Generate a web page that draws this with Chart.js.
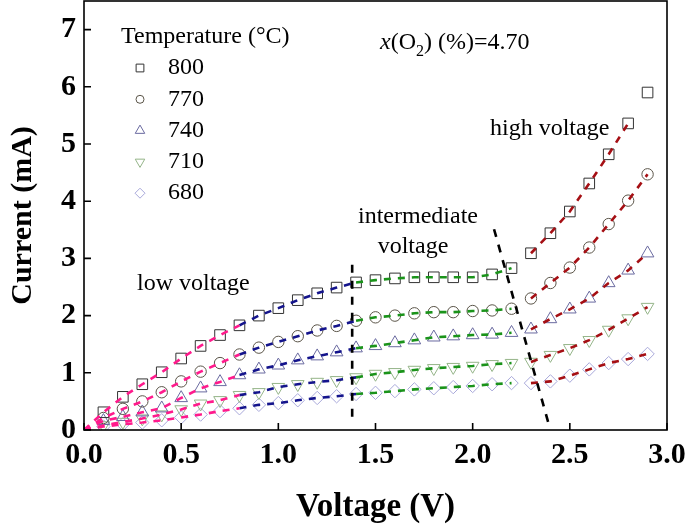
<!DOCTYPE html>
<html>
<head>
<meta charset="utf-8">
<script src="https://cdn.jsdelivr.net/npm/chart.js@4.4.0/dist/chart.umd.min.js"></script>
<style>
  html, body { margin: 0; padding: 0; background: #fff; }
  #wrap { width: 685px; height: 527px; }
</style>
</head>
<body>
<div id="wrap"><canvas id="myChart"></canvas></div>
<script>
// data
const voltage = [0.0, 0.1, 0.2, 0.3, 0.4, 0.5, 0.6, 0.7, 0.8, 0.9,
                 1.0, 1.1, 1.2, 1.3, 1.4, 1.5, 1.6, 1.7, 1.8, 1.9,
                 2.0, 2.1, 2.2, 2.3, 2.4, 2.5, 2.6, 2.7, 2.8, 2.9];
const temps = ['800', '770', '740', '710', '680'];
const cur800 = [0, 0.31, 0.58, 0.80, 1.01, 1.25, 1.47, 1.66, 1.83, 2.00,
                2.13, 2.27, 2.39, 2.49, 2.58, 2.62, 2.65, 2.67, 2.67, 2.67,
                2.67, 2.72, 2.83, 3.09, 3.44, 3.82, 4.31, 4.82, 5.36, 5.90];
const cur770 = [0, 0.21, 0.37, 0.50, 0.66, 0.85, 1.02, 1.17, 1.32, 1.44,
                1.54, 1.64, 1.74, 1.82, 1.91, 1.97, 2.00, 2.04, 2.06, 2.06,
                2.08, 2.09, 2.12, 2.30, 2.57, 2.84, 3.19, 3.60, 4.01, 4.47];
const cur740 = [0, 0.16, 0.23, 0.31, 0.38, 0.56, 0.73, 0.84, 0.96, 1.06,
                1.13, 1.22, 1.29, 1.36, 1.43, 1.47, 1.52, 1.57, 1.62, 1.64,
                1.66, 1.67, 1.70, 1.76, 1.94, 2.11, 2.30, 2.57, 2.79, 3.09];
const cur710 = [0, 0.08, 0.14, 0.20, 0.27, 0.36, 0.46, 0.52, 0.61, 0.66,
                0.75, 0.80, 0.84, 0.87, 0.92, 0.98, 1.01, 1.05, 1.08, 1.10,
                1.12, 1.15, 1.17, 1.19, 1.31, 1.43, 1.57, 1.75, 1.95, 2.15];
const cur680 = [0, 0.06, 0.10, 0.13, 0.17, 0.22, 0.27, 0.33, 0.38, 0.44,
                0.47, 0.52, 0.56, 0.59, 0.63, 0.65, 0.68, 0.71, 0.73, 0.75,
                0.77, 0.80, 0.82, 0.82, 0.85, 0.95, 1.06, 1.17, 1.24, 1.33];
const xTickLabels = ['0.0', '0.5', '1.0', '1.5', '2.0', '2.5', '3.0'];
const yTickLabels = ['0', '1', '2', '3', '4', '5', '6', '7'];
// region boundaries (dashed black lines)
const bound1V = [1.38, 1.38];
const bound1I = [0.23, 2.98];
const bound2V = [2.11, 2.39];
const bound2I = [3.51, 0.12];

const series = [cur800, cur770, cur740, cur710, cur680];
const markStyle = ['rect', 'circle', 'triangle', 'triangle', 'rectRot'];
const markRot = [0, 0, 0, 180, 0];
const markColor = ['#333333', '#5a5448', '#6a6aa0', '#94b488', '#a8a8da'];
const markSize = [7.5, 5.7, 7.3, 7.3, 6.7];
const legendSize = [5.5, 4, 5.5, 5.5, 5];

function pts(vals, from, to) {
    const out = [];
    for (let i = from; i <= to; i++) out.push({x: voltage[i], y: vals[i]});
    return out;
}

const datasets = [];
series.forEach((vals, k) => {
    datasets.push({
        label: temps[k],
        data: pts(vals, 1, vals.length - 1),
        showLine: false,
        pointStyle: markStyle[k],
        rotation: markRot[k],
        pointRadius: markSize[k],
        pointBorderWidth: 1,
        pointBorderColor: markColor[k],
        pointBackgroundColor: 'rgba(0,0,0,0)',
        order: 2
    });
});

function fit(vals, from, to, color) {
    return {
        data: pts(vals, from, to),
        showLine: true,
        borderColor: color,
        borderWidth: 2.6,
        borderDash: [7, 7],
        pointRadius: 0,
        fill: false,
        order: 1
    };
}

series.forEach((vals, k) => {
    datasets.push(fit(vals, 0, 8, '#ff1a8c'));
    datasets.push(fit(vals, 8, 14, '#14148c'));
    datasets.push(fit(vals, 14, 22, '#1a931a'));
    datasets.push(fit(vals, 23, k === 0 ? 28 : 29, '#a50f14'));
});

function boundLine(v, i) {
    return {
        data: v.map((val, n) => ({x: val, y: i[n]})),
        showLine: true,
        borderColor: '#000',
        borderWidth: 2.6,
        borderDash: [8, 8],
        pointRadius: 0,
        order: 0
    };
}
datasets.push(boundLine(bound1V, bound1I));
datasets.push(boundLine(bound2V, bound2I));

function drawMark(ctx, style, rot, x, y, r, color) {
    ctx.save();
    ctx.strokeStyle = color;
    ctx.lineWidth = 1;
    ctx.translate(x, y);
    ctx.rotate(rot * Math.PI / 180);
    ctx.beginPath();
    if (style === 'rect') {
        const s = r * Math.SQRT1_2;
        ctx.rect(-s, -s, 2 * s, 2 * s);
    } else if (style === 'circle') {
        ctx.arc(0, 0, r, 0, Math.PI * 2);
    } else if (style === 'triangle') {
        ctx.moveTo(0, -r);
        ctx.lineTo(r * Math.sin(Math.PI / 3), r * 0.5);
        ctx.lineTo(-r * Math.sin(Math.PI / 3), r * 0.5);
        ctx.closePath();
    } else {
        ctx.moveTo(0, -r);
        ctx.lineTo(r, 0);
        ctx.lineTo(0, r);
        ctx.lineTo(-r, 0);
        ctx.closePath();
    }
    ctx.stroke();
    ctx.restore();
}

const decor = {
    id: 'decor',
    afterDraw(chart) {
        const ctx = chart.ctx;
        const a = chart.chartArea;
        const sx = chart.scales.x, sy = chart.scales.y;
        ctx.save();
        ctx.strokeStyle = '#000';
        ctx.lineWidth = 1.6;
        ctx.strokeRect(a.left, a.top, a.right - a.left, a.bottom - a.top);
        ctx.beginPath();
        sx.ticks.forEach(t => {
            const px = sx.getPixelForValue(t.value);
            ctx.moveTo(px, a.bottom);
            ctx.lineTo(px, a.bottom - 7);
        });
        sy.ticks.forEach(t => {
            const py = sy.getPixelForValue(t.value);
            ctx.moveTo(a.left, py);
            ctx.lineTo(a.left + 7, py);
        });
        ctx.stroke();

        ctx.fillStyle = '#000';
        ctx.textBaseline = 'middle';
        ctx.textAlign = 'left';
        ctx.font = '24px "Liberation Serif"';
        ctx.fillText('Temperature (°C)', 121, 37);
        temps.forEach((t, k) => {
            const ly = 68 + k * 31.3;
            drawMark(ctx, markStyle[k], markRot[k], 140, ly, legendSize[k], markColor[k]);
            ctx.fillStyle = '#000';
            ctx.font = '24px "Liberation Serif"';
            ctx.fillText(t, 168, ly);
        });

        // x(O2) (%)=4.70
        let tx = 380;
        const ty = 43;
        ctx.font = 'italic 24px "Liberation Serif"';
        ctx.fillText('x', tx, ty);
        tx += ctx.measureText('x').width;
        ctx.font = '24px "Liberation Serif"';
        ctx.fillText('(O', tx, ty);
        tx += ctx.measureText('(O').width;
        ctx.font = '16px "Liberation Serif"';
        ctx.fillText('2', tx, ty + 9);
        tx += ctx.measureText('2').width;
        ctx.font = '24px "Liberation Serif"';
        ctx.fillText(') (%)=4.70', tx, ty);

        ctx.fillText('high voltage', 490, 129);
        ctx.fillText('low voltage', 137, 284);
        ctx.textAlign = 'center';
        ctx.fillText('intermediate', 418, 217);
        ctx.fillText('voltage', 413, 247);
        ctx.restore();
    }
};

const ctx = document.getElementById('myChart').getContext('2d');
const myChart = new Chart(ctx, {
    type: 'scatter',
    data: { datasets: datasets },
    options: {
        responsive: true,
        maintainAspectRatio: false,
        animation: false,
        layout: { autoPadding: false, padding: { left: 0, right: 18, top: 1, bottom: 0 } },
        plugins: {
            legend: { display: false },
            tooltip: { enabled: false }
        },
        scales: {
            x: {
                type: 'linear',
                min: 0,
                max: 3.0,
                afterFit: s => { s.height = 97; s.paddingLeft = 0; s.paddingRight = 0; },
                afterBuildTicks: s => { s.ticks = xTickLabels.map(l => ({value: parseFloat(l)})); },
                grid: { display: false, drawTicks: false },
                border: { display: false },
                ticks: {
                    padding: 7,
                    color: '#000',
                    font: { family: 'Liberation Serif', size: 30, weight: 'bold' },
                    callback: v => xTickLabels.find(l => parseFloat(l) === v)
                },
                title: {
                    display: true,
                    text: 'Voltage (V)',
                    color: '#000',
                    padding: { top: 0, bottom: 0 },
                    font: { family: 'Liberation Serif', size: 33, weight: 'bold' }
                }
            },
            y: {
                type: 'linear',
                min: 0,
                max: 7.5,
                afterFit: s => { s.width = 84; s.paddingTop = 0; s.paddingBottom = 0; },
                afterBuildTicks: s => { s.ticks = yTickLabels.map(l => ({value: parseFloat(l)})); },
                grid: { display: false, drawTicks: false },
                border: { display: false },
                ticks: {
                    padding: 8,
                    color: '#000',
                    font: { family: 'Liberation Serif', size: 30, weight: 'bold' },
                    callback: v => yTickLabels.find(l => parseFloat(l) === v)
                },
                title: {
                    display: true,
                    text: 'Current (mA)',
                    color: '#000',
                    padding: { top: 5, bottom: 0 },
                    font: { family: 'Liberation Serif', size: 30, weight: 'bold' }
                }
            }
        }
    },
    plugins: [decor]
});
</script>
</body>
</html>
